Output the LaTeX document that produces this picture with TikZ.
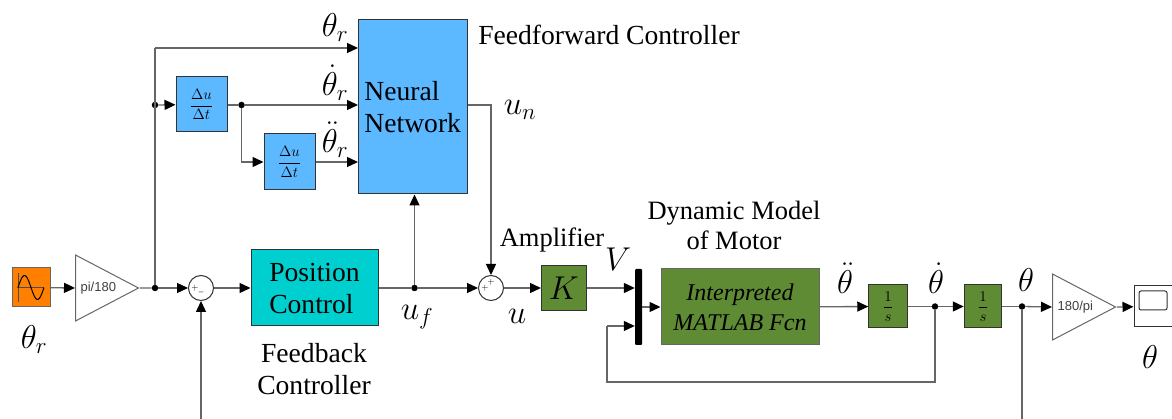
\RequirePackage{fix-cm}
\documentclass[tikz,border=0pt]{standalone}
\usepackage{fontspec}
\setmainfont{Liberation Serif}
\newfontfamily\gainfont{Liberation Sans}
\usetikzlibrary{shapes.geometric,arrows.meta}
\definecolor{srcorange}{HTML}{FF8000}
\definecolor{nnblue}{HTML}{5CB8FF}
\definecolor{fbteal}{HTML}{00CFCF}
\definecolor{motorgreen}{HTML}{5E8B33}
\newcommand{\bigtxt}{\fontsize{27.6}{32}\selectfont}
\newcommand{\midtxt}{\fontsize{26.5}{30}\selectfont}
\newcommand{\fcntxt}{\fontsize{24}{30}\selectfont}
\newcommand{\symtxt}{\fontsize{33}{33}\selectfont}
\newcommand{\fractxt}{\fontsize{15}{15}\selectfont}

\begin{document}
\begin{tikzpicture}[x=1pt,y=-1pt]
    \tikzstyle{block}=[rectangle,draw=black!80,line width=1pt,inner sep=0pt]
    \tikzstyle{fracblock}=[block,font=\fractxt]
    \tikzstyle{gain}=[isosceles triangle,isosceles triangle stretches,anchor=west,draw=black!60,text=black!75,line width=1pt,inner sep=0pt,minimum width=66pt,minimum height=63pt,font=\gainfont\fontsize{13}{13}\selectfont]
    \tikzstyle{sumnode}=[circle,draw=black!80,fill=white,line width=1pt,minimum size=25pt,inner sep=0pt]
    \tikzstyle{junction}=[circle,fill=black,minimum size=6.5pt,inner sep=0pt]
    \tikzstyle{sign}=[inner sep=0pt,font=\fontsize{9}{9}\selectfont]
    \tikzstyle{symlabel}=[inner sep=0pt,font=\symtxt]
    \tikzstyle{wire}=[draw=black!60,line width=1.3pt]
    \tikzstyle{edge}=[wire,-{Triangle[length=11pt,width=10pt,black]}]

    \useasboundingbox (0,0) rectangle (1172,419);

    % forward path
    \node[block,fill=srcorange,draw=black!60,minimum width=38pt,minimum height=39pt] (source) at (31,287.5) {};
    \node[gain] (gainin) at (75,288) {pi/180};
    \node[junction] (split) at (155,288) {};
    \node[sumnode] (sumfb) at (201,288) {};
    \node[block,fill=fbteal,minimum width=127pt,minimum height=76pt,align=left,font=\bigtxt] (position) at (314.5,288) {Position\\Control};
    \node[junction] (uf) at (414.5,288) {};
    \node[sumnode] (sumu) at (491,288) {};
    \node[block,fill=motorgreen,minimum width=44.5pt,minimum height=45.5pt,font=\symtxt] (amp) at (563.75,288) {$K$};
    \node[rectangle,fill=black,rounded corners=1pt,minimum width=7pt,minimum height=76pt,inner sep=0pt] (mux) at (638.5,307) {};
    \node[block,fill=motorgreen,draw=black!60,minimum width=158pt,minimum height=76pt,align=center,font=\fcntxt\itshape] (motor) at (740,307) {Interpreted\\MATLAB Fcn};
    \node[fracblock,fill=motorgreen,minimum width=38.5pt,minimum height=43pt] (intA) at (888,306.5) {$\displaystyle\frac{1}{s}$};
    \node[junction] (thetadot) at (935,306.5) {};
    \node[fracblock,fill=motorgreen,minimum width=37.5pt,minimum height=43pt] (intB) at (983,306.5) {$\displaystyle\frac{1}{s}$};
    \node[junction] (thetaout) at (1022,306.5) {};
    \node[gain] (gainout) at (1052,307) {180/pi};
    \node[block,fill=white,minimum width=38pt,minimum height=41pt] (scope) at (1153,306.5) {};

    % feedforward path
    \node[block,fill=nnblue,minimum width=108.5pt,minimum height=174pt,align=left,font=\bigtxt] (nn) at (412.75,107) {Neural\\Network};
    \node[junction] (splitB) at (155,105) {};
    \node[fracblock,fill=nnblue,minimum width=51pt,minimum height=55pt] (diffA) at (201.5,104.5) {$\displaystyle\frac{\Delta u}{\Delta t}$};
    \node[junction] (splitC) at (241.5,105) {};
    \node[fracblock,fill=nnblue,minimum width=51pt,minimum height=56pt] (diffB) at (289.5,162) {$\displaystyle\frac{\Delta u}{\Delta t}$};

    % free ends and corners
    \coordinate (ftop) at (155,48);
    \coordinate (nnout) at (491,105);
    \coordinate (fbA) at (935,382);
    \coordinate (fbB) at (607,382);
    \coordinate (fbC) at (607,326);
    \coordinate (fbthetaend) at (1022,419);
    \coordinate (fbsumend) at (201,419);

    % sine and scope icons
    \draw[black!70,line width=0.8pt] (18,273) -- (18,302) (17,287.5) -- (44,287.5);
    \draw[black,line width=1pt,domain=18:44,samples=40,smooth] plot (\x,{287.5-12*sin((\x-18)*360/26)});
    \node[rectangle,draw=black!80,line width=1pt,rounded corners=2pt,minimum width=28pt,minimum height=19pt,inner sep=0pt] (screen) at (1153,300.5) {};

    % sum signs
    \node[sign] (plusA) at (195,288) {$+$};
    \node[sign] (minusA) at (201,292) {$\_$};
    \node[sign] (plusB) at (485,288) {$+$};
    \node[sign] (plusC) at (491,282) {$+$};

    % connectors
    \draw[edge] (source) -- (gainin.west);
    \draw[wire] (gainin.east) -- (split);
    \draw[edge] (split) -- (sumfb);
    \draw[edge] (sumfb) -- (position);
    \draw[wire] (position) -- (uf);
    \draw[edge] (uf) -- (sumu);
    \draw[edge] (uf) -- (uf |- nn.south);
    \draw[edge] (sumu) -- (amp);
    \draw[edge] (amp) -- (amp -| mux.west);
    \draw[edge] (mux) -- (motor);
    \draw[edge] (motor) -- (intA);
    \draw[wire] (intA) -- (thetadot);
    \draw[edge] (thetadot) -- (intB);
    \draw[wire] (intB) -- (thetaout);
    \draw[edge] (thetaout) -- (gainout.west);
    \draw[edge] (gainout.east) -- (scope);

    \draw[wire] (split) -- (ftop);
    \draw[edge] (ftop) -- (ftop -| nn.west);
    \draw[edge] (splitB) -- (diffA);
    \draw[wire] (diffA.east |- splitC) -- (splitC);
    \draw[edge] (splitC) -- (splitC -| nn.west);
    \draw[edge] (splitC) |- (diffB);
    \draw[edge] (diffB) -- (diffB -| nn.west);
    \draw[edge] (nn.east |- nnout) -- (nnout) -- (sumu);

    \draw[wire] (thetadot) -- (fbA) -- (fbB) -- (fbC);
    \draw[edge] (fbC) -- (fbC -| mux.west);
    \draw[wire] (thetaout) -- (fbthetaend);
    \draw[edge] (fbsumend) -- (sumfb);

    % labels
    \node[symlabel] (lblsrc) at (34,340) {$\theta_r$};
    \node[symlabel] (lbltop) at (335,28) {$\theta_r$};
    \node[symlabel] (lbldot) at (335,83) {$\dot\theta_r$};
    \node[symlabel] (lblddot) at (335,140) {$\ddot\theta_r$};
    \node[symlabel] (lblun) at (520,110) {$u_n$};
    \node[symlabel] (lbluf) at (417,317) {$u_f$};
    \node[symlabel] (lblu) at (517,316) {$u$};
    \node[symlabel] (lblv) at (618,259) {$V$};
    \node[symlabel] (lbla) at (845,278) {$\ddot\theta$};
    \node[symlabel] (lblw) at (936,278) {$\dot\theta$};
    \node[symlabel] (lblt) at (1026,280) {$\theta$};
    \node[symlabel] (lblo) at (1150,357) {$\theta$};
    \node[font=\bigtxt] (ffctrl) at (609,35) {Feedforward Controller};
    \node[font=\midtxt] (ampl) at (552,240) {Amplifier};
    \node[font=\midtxt,align=center] (dyn) at (734,225) {Dynamic Model\\of Motor};
    \node[font=\bigtxt,align=center] (fbctrl) at (314,369) {Feedback\\Controller};
\end{tikzpicture}
\end{document}
